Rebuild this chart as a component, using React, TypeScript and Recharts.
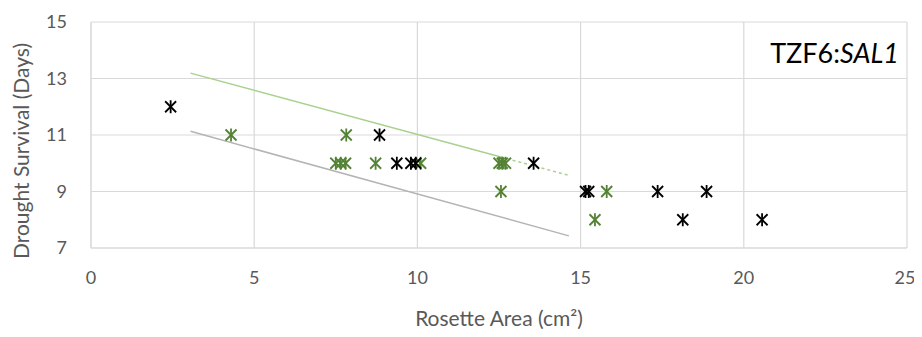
import React from "react";
import {
  ScatterChart, Scatter, XAxis, YAxis, CartesianGrid,
} from "recharts";

// Rosette area (cm²) vs drought survival (days)
const blackArea = [2.44, 8.84, 9.37, 9.8, 9.95, 13.56, 15.15, 15.25, 17.36, 18.86, 18.13, 20.56];
const blackDays = [12, 11, 10, 10, 10, 10, 9, 9, 9, 9, 8, 8];

const greenArea = [4.29, 7.82, 7.5, 7.65, 7.8, 8.72, 10.1, 12.5, 12.6, 12.7, 12.56, 15.8, 15.44];
const greenDays = [11, 11, 10, 10, 10, 10, 10, 10, 10, 10, 9, 9, 8];

// trend line end points
const trendSolidX = [3.05, 12.56];
const trendSolidY = [13.19, 10.22];
const trendDashX = [12.56, 14.67];
const trendDashY = [10.22, 9.56];
const trendGreyX = [3.05, 14.64];
const trendGreyY = [11.13, 7.43];

const xTicks = [0, 5, 10, 15, 20, 25];
const yTicks = [7, 9, 11, 13, 15];

const zip = (xs: number[], ys: number[]) => xs.map((x, i) => ({ x, y: ys[i] }));

const FONT = "Lato, 'Open Sans', sans-serif";
const AXIS_GREY = "#595959";
const GRID = "#d9d9d9";

function Star(color: string) {
  return (props: any) => {
    const { cx, cy } = props;
    const r = 5.5;
    return (
      <g stroke={color} strokeWidth={1.8}>
        <line x1={cx - r} y1={cy - r} x2={cx + r} y2={cy + r} />
        <line x1={cx - r} y1={cy + r} x2={cx + r} y2={cy - r} />
        <line x1={cx} y1={cy - r - 1} x2={cx} y2={cy + r + 1} />
      </g>
    );
  };
}

const noShape = () => <g />;

export default function App() {
  return (
    <div style={{ position: "relative", width: 906, height: 321, fontFamily: FONT }}>
      <ScatterChart width={906} height={321} margin={{ top: 14, right: 7, bottom: 0, left: 0 }}>
        <CartesianGrid stroke={GRID} strokeWidth={1.2} />
        <XAxis
          type="number"
          dataKey="x"
          domain={[0, 25]}
          ticks={xTicks}
          height={81}
          tickLine={false}
          axisLine={{ stroke: GRID }}
          tickMargin={17}
          tick={{ fill: AXIS_GREY, fontSize: 18, fontFamily: FONT }}
          label={{ value: "Rosette Area (cm²)", position: "insideBottom", offset: 3, fill: AXIS_GREY, fontSize: 21, fontFamily: FONT }}
        />
        <YAxis
          type="number"
          dataKey="y"
          domain={[7, 15]}
          ticks={yTicks}
          width={83}
          tickLine={false}
          axisLine={{ stroke: GRID }}
          tickMargin={18}
          tick={{ fill: AXIS_GREY, fontSize: 18, fontFamily: FONT }}
          label={{ value: "Drought Survival (Days)", angle: -90, position: "insideLeft", offset: 14, dy: 16, fill: AXIS_GREY, fontSize: 21, fontFamily: FONT, style: { textAnchor: "middle" } }}
        />
        <Scatter data={zip(trendSolidX, trendSolidY)} line={{ stroke: "#a9d18e", strokeWidth: 1.5 }} lineType="joint" shape={noShape} isAnimationActive={false} />
        <Scatter data={zip(trendDashX, trendDashY)} line={{ stroke: "#a9d18e", strokeWidth: 1.5, strokeDasharray: "3 3" }} lineType="joint" shape={noShape} isAnimationActive={false} />
        <Scatter data={zip(trendGreyX, trendGreyY)} line={{ stroke: "#b4b4b4", strokeWidth: 1.5 }} lineType="joint" shape={noShape} isAnimationActive={false} />
        <Scatter data={zip(greenArea, greenDays)} shape={Star("#548235")} isAnimationActive={false} />
        <Scatter data={zip(blackArea, blackDays)} shape={Star("#000000")} isAnimationActive={false} />
      </ScatterChart>
      <div style={{ position: "absolute", right: 15, top: 30, fontSize: 27, color: "#000", lineHeight: "30px" }}>
        TZF6:<i>SAL1</i>
      </div>
    </div>
  );
}
